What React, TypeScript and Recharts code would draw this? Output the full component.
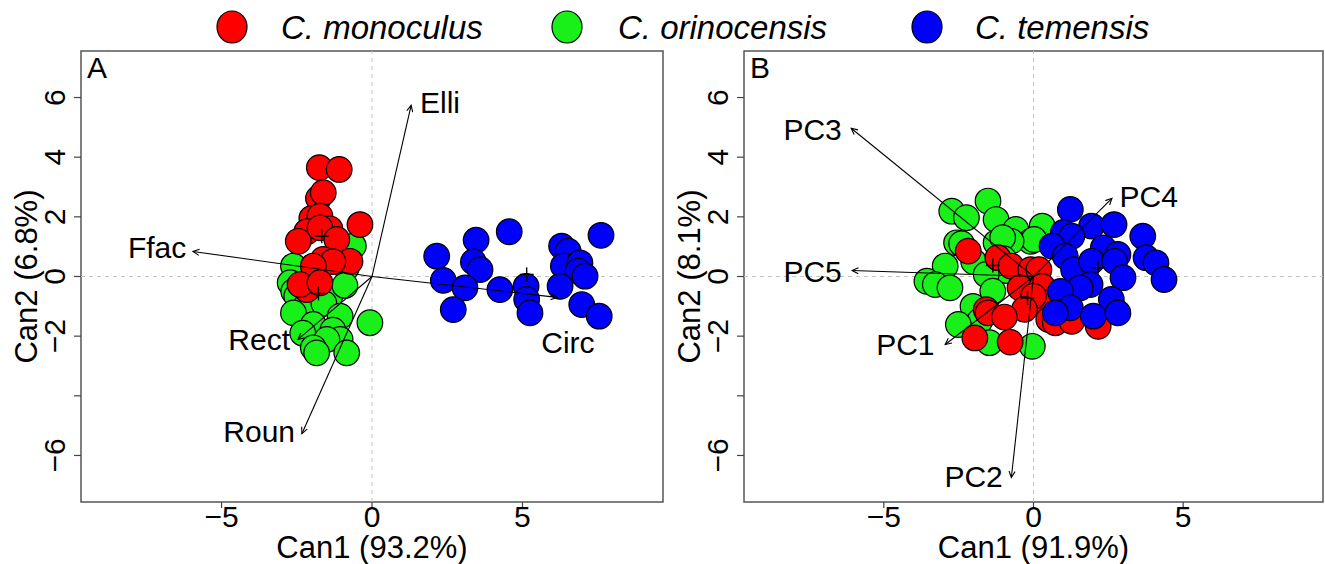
import React from "react";
import {
  ScatterChart,
  Scatter,
  XAxis,
  YAxis,
  ReferenceLine,
  ReferenceArea,
} from "recharts";

const SANS = "'Liberation Sans', Arial, Helvetica, sans-serif";

// species colours
const RED = "#ff0000";
const GREEN = "#19f019";
const BLUE = "#0000ff";

const X_TICKS = [-5, 0, 5];
const Y_TICKS = [-6, -4, -2, 0, 2, 4, 6];
const X_DOMAIN = [-9.67, 9.67];
const Y_DOMAIN = [-7.56, 7.56];

const SPECIES = ["C. monoculus", "C. orinocensis", "C. temensis"];

// ---- panel A : shape descriptors ----
const A_RED = [
  [-1.75, 3.65], [-1.09, 3.59], [-1.78, 2.62], [-1.62, 2.81], [-2.0, 1.95],
  [-1.73, 2.02], [-0.4, 1.74], [-1.4, 1.6], [-2.17, 1.5], [-1.73, 1.63],
  [-2.45, 1.18], [-1.17, 1.24], [-1.62, 0.57], [-0.73, 0.51], [-1.3, 0.5],
  [-1.95, 0.35], [-2.17, -0.44], [-2.39, -0.27], [-1.73, -0.21],
];
const A_GREEN = [
  [-0.62, 1.02], [-0.85, 0.3], [-2.61, 0.35], [-2.72, -0.21], [-2.6, -0.5],
  [-1.4, -0.66], [-2.5, -0.66], [-0.9, -0.3], [-2.2, -1.0], [-1.6, -0.9],
  [-2.61, -1.22], [-1.06, -1.33], [-1.95, -1.61], [-0.07, -1.55], [-1.3, -1.8],
  [-2.3, -1.9], [-1.06, -2.11], [-1.5, -2.11], [-1.95, -2.39], [-1.84, -2.56],
  [-0.84, -2.56],
];
const A_BLUE = [
  [2.15, 0.68], [3.46, 1.22], [4.56, 1.5], [3.37, 0.49], [3.59, 0.23],
  [2.37, -0.13], [3.09, -0.38], [2.7, -1.11], [4.25, -0.44], [5.12, -0.33],
  [5.14, -0.77], [5.25, -1.22], [6.3, 1.02], [6.52, 0.85], [6.36, 0.35],
  [6.91, 0.46], [6.85, 0.18], [7.08, 0.01], [6.25, -0.33], [6.97, -0.94],
  [7.55, -1.33], [7.61, 1.38],
];
const A_CENTROIDS = [[-1.67, 1.35], [-1.78, -0.57], [5.14, 0.07]];
const A_VARS = ["Elli", "Ffac", "Rect", "Roun", "Circ"];
const A_TIPS = [[1.3, 5.74], [-5.95, 0.84], [-2.46, -2.11], [-2.33, -5.27], [6.15, -0.7]];
const A_LABEL_POS = [[2.26, 5.84], [-7.14, 0.97], [-3.75, -2.11], [-3.75, -5.2], [6.51, -2.21]];

// ---- panel B : principal components ----
const B_GREEN = [
  [-2.73, 2.19], [-2.24, 1.97], [-1.52, 2.53], [-1.25, 1.91], [-0.59, 1.58],
  [-0.09, 1.18], [0.29, 1.69], [0.02, 1.24], [-2.57, 1.13], [-2.4, 1.1],
  [-1.25, 1.13], [-0.75, 1.18], [-1.03, 1.3], [-2.0, 0.5], [-1.0, 0.6],
  [-0.9, 0.2], [-2.95, 0.35], [-3.56, -0.16], [-3.28, -0.27], [-2.79, -0.38],
  [-1.58, 0.07], [-1.36, -0.49], [-2.02, -1.0], [-1.8, -1.5], [-2.51, -1.61],
  [-1.47, -2.22], [-0.04, -2.34],
];
const B_RED = [
  [-2.18, 0.85], [-1.19, 0.63], [-0.75, 0.35], [-0.09, 0.23], [0.18, 0.23],
  [-0.45, -0.38], [0.29, -0.33], [0.4, -0.88], [0.0, -0.66], [-0.3, -1.1],
  [-1.58, -1.11], [-1.52, -1.22], [-0.97, -1.36], [0.51, -1.44], [0.73, -1.55],
  [1.28, -1.5], [2.16, -1.67], [-1.96, -2.06], [-0.78, -2.2],
];
const B_BLUE = [
  [1.23, 2.25], [1.94, 1.69], [2.69, 1.74], [1.0, 1.48], [1.28, 1.35],
  [3.65, 1.35], [0.62, 1.02], [1.06, 0.68], [2.33, 0.96], [2.82, 0.74],
  [1.34, 0.23], [1.94, 0.51], [2.71, 0.51], [3.76, 0.63], [4.09, 0.46],
  [4.36, -0.1], [2.99, -0.04], [1.89, -0.27], [1.56, -0.38], [0.9, -0.5],
  [2.6, -0.77], [1.23, -1.05], [0.73, -1.22], [2.0, -1.33], [2.82, -1.22],
];
const B_CENTROIDS = [[-0.2, -0.72], [-1.36, 0.37], [2.16, 0.29]];
const B_VARS = ["PC3", "PC5", "PC1", "PC2", "PC4"];
const B_TIPS = [[-6.09, 4.97], [-6.06, 0.2], [-2.95, -2.28], [-0.74, -6.74], [2.62, 2.62]];
const B_LABEL_POS = [[-7.38, 4.93], [-7.38, 0.17], [-4.28, -2.28], [-2.0, -6.7], [3.85, 2.68]];

const toPts = (arr: number[][]) => arr.map(([x, y]) => ({ x, y }));
const fmt = (v: number) => String(v).replace("-", "\u2212");

const Dot = (fill: string) => (p: any) =>
  <circle cx={p.cx} cy={p.cy} r={12.8} fill={fill} stroke="#000" strokeWidth={1.2} />;

const Cross = (p: any) => (
  <g stroke="#000" strokeWidth={1.4}>
    <line x1={p.cx - 7} y1={p.cy} x2={p.cx + 7} y2={p.cy} />
    <line x1={p.cx} y1={p.cy - 7} x2={p.cx} y2={p.cy + 7} />
  </g>
);

const Nothing = () => <g />;

// first point is the origin, the rest are arrow tips
const Arrows = (props: any) => {
  const pts = props.points || [];
  if (!pts.length) return <g />;
  const o = pts[0];
  return (
    <g>
      {pts.slice(1).map((t: any, i: number) => {
        const ang = Math.atan2(t.y - o.y, t.x - o.x);
        const L = 7, a = 0.45;
        return (
          <g key={i} stroke="#000" strokeWidth={1.1} fill="none">
            <line x1={o.x} y1={o.y} x2={t.x} y2={t.y} />
            <path
              d={`M${t.x - L * Math.cos(ang - a)},${t.y - L * Math.sin(ang - a)} L${t.x},${t.y} L${t.x - L * Math.cos(ang + a)},${t.y - L * Math.sin(ang + a)}`}
            />
          </g>
        );
      })}
    </g>
  );
};

const VarLabel = (p: any) => (
  <text x={p.cx} y={p.cy} dy="0.35em" textAnchor="middle" fontSize={30} fontFamily={SANS} fill="#000">
    {p.payload.label}
  </text>
);

const XTick = (p: any) => (
  <text x={p.x} y={p.y + 17} textAnchor="middle" fontSize={30} fontFamily={SANS} fill="#000">
    {fmt(p.payload.value)}
  </text>
);

const YTick = (p: any) =>
  p.payload.value === -4 ? <g /> : (
    <text transform={`translate(${p.x - 7},${p.y}) rotate(-90)`} textAnchor="middle" fontSize={30} fontFamily={SANS} fill="#000">
      {fmt(p.payload.value)}
    </text>
  );

function Panel({
  letter, xTitle, yTitle, red, green, blue, centroids, vars, tips, labelPos, width, right,
}: any) {
  const arrowData = [{ x: 0, y: 0 }, ...toPts(tips)];
  const labelData = labelPos.map(([x, y]: number[], i: number) => ({ x, y, label: vars[i] }));
  return (
    <ScatterChart width={width} height={564} margin={{ top: 51, right, bottom: 0, left: 0 }}>
      <XAxis
        type="number"
        dataKey="x"
        domain={X_DOMAIN}
        allowDataOverflow
        ticks={X_TICKS}
        interval={0}
        axisLine={false}
        tickSize={6}
        tickLine={{ stroke: "#444", strokeWidth: 1.2 }}
        tick={XTick}
        height={62}
        label={(lp: any) => {
          const vb = lp.viewBox || { x: 0, width: 0, y: 0, height: 62 };
          return (
            <text x={vb.x + vb.width / 2} y={vb.y + vb.height - 6} textAnchor="middle" fontSize={31} fontFamily={SANS} fill="#000">
              {xTitle}
            </text>
          );
        }}
      />
      <YAxis
        type="number"
        dataKey="y"
        domain={Y_DOMAIN}
        allowDataOverflow
        ticks={Y_TICKS}
        interval={0}
        axisLine={false}
        tickSize={7}
        tickLine={{ stroke: "#444", strokeWidth: 1.2 }}
        tick={YTick}
        width={81}
        label={(lp: any) => {
          const vb = lp.viewBox || { x: 0, width: 81, y: 51, height: 451 };
          return (
            <text
              transform={`translate(${vb.x + vb.width - 44},${vb.y + vb.height / 2}) rotate(-90)`}
              textAnchor="middle"
              fontSize={31}
              fontFamily={SANS}
              fill="#000"
            >
              {yTitle}
            </text>
          );
        }}
      />
      <ReferenceLine x={0} stroke="#c4c4c4" strokeDasharray="4 4" strokeWidth={1} />
      <ReferenceLine y={0} stroke="#c4c4c4" strokeDasharray="4 4" strokeWidth={1} />
      <ReferenceArea
        x1={X_DOMAIN[0]}
        x2={X_DOMAIN[1]}
        y1={Y_DOMAIN[0]}
        y2={Y_DOMAIN[1]}
        fill="none"
        fillOpacity={0}
        stroke="#555"
        strokeWidth={1.5}
        ifOverflow="visible"
      />
      <Scatter data={toPts(green)} shape={Dot(GREEN)} isAnimationActive={false} />
      <Scatter data={toPts(red)} shape={Dot(RED)} isAnimationActive={false} />
      <Scatter data={toPts(blue)} shape={Dot(BLUE)} isAnimationActive={false} />
      <Scatter data={toPts(centroids)} shape={Cross} isAnimationActive={false} />
      <Scatter data={arrowData} shape={Nothing} line={Arrows} lineType="joint" isAnimationActive={false} />
      <Scatter data={labelData} shape={VarLabel} isAnimationActive={false} />
      <ReferenceArea
        x1={X_DOMAIN[0]}
        x2={X_DOMAIN[1]}
        y1={Y_DOMAIN[0]}
        y2={Y_DOMAIN[1]}
        fill="none"
        fillOpacity={0}
        stroke="none"
        ifOverflow="visible"
        label={(lp: any) => {
          const vb = lp.viewBox || { x: 81, y: 51 };
          return (
            <text x={vb.x + 6} y={vb.y + 27} fontSize={30} fontFamily={SANS} fill="#000">
              {letter}
            </text>
          );
        }}
      />
    </ScatterChart>
  );
}

function SpeciesLegend() {
  const items = [
    { name: SPECIES[0], color: RED, cx: 232, tx: 281 },
    { name: SPECIES[1], color: GREEN, cx: 567, tx: 618 },
    { name: SPECIES[2], color: BLUE, cx: 927, tx: 975 },
  ];
  return (
    <svg width={1325} height={51} style={{ position: "absolute", left: 0, top: 0 }}>
      {items.map((it) => (
        <g key={it.name}>
          <ellipse cx={it.cx} cy={27} rx={15} ry={16} fill={it.color} stroke="#000" strokeWidth={1.2} />
          <text x={it.tx} y={39} fontSize={33} fontStyle="italic" fontFamily={SANS} fill="#000">
            {it.name}
          </text>
        </g>
      ))}
    </svg>
  );
}

export default function App() {
  return (
    <div style={{ position: "absolute", left: 0, top: 0, width: 1325, height: 564, background: "#fff", overflow: "hidden" }}>
      <SpeciesLegend />
      <div style={{ position: "absolute", left: 0, top: 0 }}>
        <Panel
          letter="A"
          xTitle="Can1 (93.2%)"
          yTitle="Can2 (6.8%)"
          red={A_RED}
          green={A_GREEN}
          blue={A_BLUE}
          centroids={A_CENTROIDS}
          vars={A_VARS}
          tips={A_TIPS}
          labelPos={A_LABEL_POS}
          width={700}
          right={37}
        />
      </div>
      <div style={{ position: "absolute", left: 663, top: 0 }}>
        <Panel
          letter="B"
          xTitle="Can1 (91.9%)"
          yTitle="Can2 (8.1%)"
          red={B_RED}
          green={B_GREEN}
          blue={B_BLUE}
          centroids={B_CENTROIDS}
          vars={B_VARS}
          tips={B_TIPS}
          labelPos={B_LABEL_POS}
          width={662}
          right={2}
        />
      </div>
    </div>
  );
}
